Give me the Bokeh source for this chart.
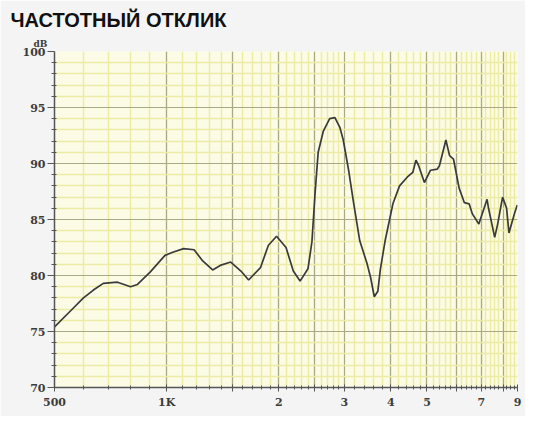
from bokeh.plotting import figure
from bokeh.models import FixedTicker, Range1d, Title
from bokeh.embed import file_html
from bokeh.resources import INLINE

# ---- data ----
freq = [500, 562, 598, 636, 676, 738, 800, 835, 903, 990, 1043, 1111, 1185, 1250,
        1329, 1393, 1486, 1583, 1660, 1786, 1876, 1973, 2092, 2188, 2282, 2396,
        2455, 2503, 2552, 2635, 2740, 2830, 2920, 2980, 3080, 3180, 3300, 3450,
        3530, 3610, 3690, 3750, 3860, 4050, 4220, 4430, 4580, 4670, 4750, 4920,
        5110, 5330, 5400, 5620, 5750, 5890, 6100, 6300, 6490, 6620, 6890, 7250,
        7315, 7600, 7730, 7980, 8180, 8300, 8600, 8740]
level_db = [75.4, 77.1, 78.0, 78.7, 79.3, 79.4, 79.0, 79.2, 80.3, 81.8, 82.1, 82.4,
            82.3, 81.3, 80.5, 80.9, 81.2, 80.4, 79.6, 80.7, 82.7, 83.5, 82.5, 80.4,
            79.5, 80.6, 83.0, 87.3, 91.0, 92.9, 94.0, 94.1, 93.2, 92.1, 89.4, 86.4,
            83.1, 81.1, 79.8, 78.1, 78.6, 80.6, 83.1, 86.4, 88.0, 88.8, 89.2, 90.3,
            89.8, 88.3, 89.4, 89.5, 89.8, 92.1, 90.7, 90.4, 87.8, 86.5, 86.4, 85.5,
            84.6, 86.8, 86.0, 83.4, 84.5, 87.0, 86.0, 83.8, 85.6, 86.3]

x_ticks = [500, 1000, 1500, 2000, 2500, 3000, 4000, 5000, 6000, 7000, 8000, 8750]
x_tick_labels = ["500", "1K", "", "2", "", "3", "4", "5", "", "7", "", "9"]
x_grid_major = [1000, 1500, 2000, 2500, 3000, 4000, 5000, 6000, 7000, 8000]
x_minor = list(range(600, 3000, 100)) + list(range(3200, 8800, 200))
y_ticks = [70, 75, 80, 85, 90, 95, 100]
y_minor = [v for v in range(71, 100) if v % 5]
title_text = "ЧАСТОТНЫЙ ОТКЛИК"
unit_text = "dB"

p = figure(width=525, height=416, x_axis_type="log", output_backend="svg",
           toolbar_location=None, x_range=Range1d(500, 8750), y_range=Range1d(70, 100),
           min_border_left=54, min_border_right=8, min_border_top=51, min_border_bottom=29,
           title=None)
p.border_fill_color = "#f4f4f4"
p.background_fill_color = "#fbfbe6"
p.outline_line_color = None

# unit label (closest to the plot) and the heading above it
p.add_layout(Title(text=unit_text, align="left", offset=-21, standoff=5,
                   text_font="DejaVu Serif", text_font_style="bold",
                   text_font_size="9px", text_color="#3c3c3c"), "above")
p.add_layout(Title(text=title_text, align="left", offset=-44, standoff=8,
                   text_font="Liberation Sans", text_font_style="bold",
                   text_font_size="20px", text_color="#111111"), "above")

# axes
p.xaxis.ticker = FixedTicker(ticks=x_ticks, minor_ticks=x_minor)
p.xaxis.major_label_overrides = {t: l for t, l in zip(x_ticks, x_tick_labels)}
p.yaxis.ticker = FixedTicker(ticks=y_ticks, minor_ticks=y_minor)

for ax in (p.xaxis[0], p.yaxis[0]):
    ax.axis_line_color = "#555555"
    ax.axis_line_width = 1.5
    ax.major_tick_line_color = "#555555"
    ax.minor_tick_line_color = "#555555"
    ax.major_label_text_font = "DejaVu Serif"
    ax.major_label_text_font_style = "bold"
    ax.major_label_text_font_size = "11px"
    ax.major_label_text_color = "#3c3c3c"

p.xaxis.major_tick_in = 3
p.xaxis.major_tick_out = 4
p.xaxis.minor_tick_in = 2
p.xaxis.minor_tick_out = 2
p.xaxis.major_label_standoff = 4
p.yaxis.major_tick_in = 0
p.yaxis.major_tick_out = 7
p.yaxis.minor_tick_in = 2
p.yaxis.minor_tick_out = 3
p.yaxis.major_label_standoff = 2

# grids
p.xgrid.ticker = FixedTicker(ticks=x_grid_major, minor_ticks=x_minor)
for g in (p.xgrid[0], p.ygrid[0]):
    g.grid_line_color = "#a9a986"
    g.grid_line_width = 1.2
    g.minor_grid_line_color = "#ececa6"
    g.minor_grid_line_width = 1.5

# response curve
p.line(freq, level_db, line_color="#3a3a3a", line_width=1.7)

open("out.html", "w").write(file_html(p, INLINE))
